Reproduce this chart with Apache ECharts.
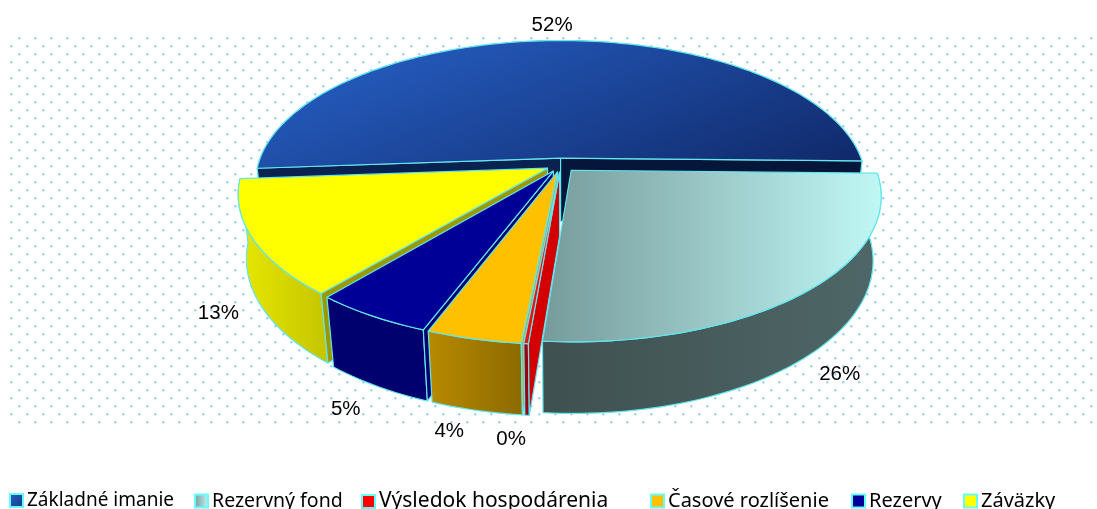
<!DOCTYPE html>
<html>
<head>
<meta charset="utf-8">
<style>html,body{margin:0;padding:0;background:#fff}#chart{width:1097px;height:509px}</style>
<script src="https://cdn.jsdelivr.net/npm/echarts@6/dist/echarts.min.js"></script>
</head>
<body>
<div id="chart"></div>
<script>
// values, in percent
const categories = ['Základné imanie', 'Rezervný fond', 'Výsledok hospodárenia', 'Časové rozlíšenie', 'Rezervy', 'Záväzky'];
const shares = [51.5, 26.0, 0.2, 4.2, 5.3, 12.8];

// paint order and colours per slice
const paintOrder = [1, 2, 6, 5, 4, 3];
const EDGE = '#62e6ee';

const grad = (x2, y2, a, b) => new echarts.graphic.LinearGradient(0, 0, x2, y2, [{offset: 0, color: a}, {offset: 1, color: b}]);
const looks = [
  {top: grad(0.2, 2.4, '#2864cc', '#10296a'), wall: '#081a40', cutA: '#0a2250', cutB: '#06163a', key: grad(1, 1, '#2560c8', '#143a80')},
  {top: grad(1, 0, '#769a9a', '#c0f8f6'), wall: grad(1, 0, '#3f5050', '#4f6768'), cutA: '#3f5050', cutB: '#3f5050', key: grad(1, 0, '#769a9a', '#c0f8f6')},
  {top: '#f01010', wall: '#9a0010', cutA: '#d40000', cutB: '#d40000', key: '#ff0000'},
  {top: '#ffc000', wall: grad(1, 0, '#b88a00', '#8c6a00'), cutA: '#a8b060', cutB: '#a8b060', key: '#ffc000'},
  {top: '#000096', wall: '#00006e', cutA: '#00006e', cutB: '#000078', key: '#000096'},
  {top: '#ffff00', wall: grad(1, 0, '#e8e800', '#c4c400'), cutA: '#9a9a00', cutB: '#9a9a00', key: '#ffff00'}
];

// projection of the tilted disc
const CX = 561, CY = 165, RX = 303, RY = 140, THICK = 65;
const PERSP = 0.1725, SHRINK = 0.025, EXPLODE = 0.05, START = -94.2, LABEL_R = 1.15;

// hand placement of the percent labels, on top of the computed spot
const labelNudge = [[-1, -1], [13, -1], [-12, 2], [-17, 0], [-10, 5], [-11, 0]];
// legend entries sit at uneven spots in the original
const legendLeft = [9, 194, 361, 650, 851, 963];
const legendFont = [19, 19.5, 21, 20, 20, 20];

function project(u, v, z) {
  const w = 1 - PERSP * v + SHRINK * z;
  return [CX + RX * u / w, CY + (RY * v + THICK * z) / w];
}

const total = shares.reduce((a, b) => a + b, 0);
function sliceStart(i) {
  const before = shares.slice(0, i).reduce((a, b) => a + b, 0);
  return START + before / total * 360;
}

function unit(deg) {
  const r = deg * Math.PI / 180;
  return [Math.sin(r), -Math.cos(r)];
}

function area(pts) {
  let s = 0;
  pts.forEach((p, k) => {
    const q = pts[(k + 1) % pts.length];
    s += p[0] * q[1] - q[0] * p[1];
  });
  return s;
}

function renderSlice(i, api) {
  const share = api.value(0);
  const a0 = sliceStart(i);
  const a1 = a0 + share / total * 360;
  const mid = unit((a0 + a1) / 2);
  const ox = mid[0] * EXPLODE, oy = mid[1] * EXPLODE;
  const look = looks[i];
  const at = (deg, r, z) => {
    const d = unit(deg);
    return project(ox + d[0] * r, oy + d[1] * r, z);
  };
  const arc = (z) => {
    const pts = [];
    const n = Math.max(2, Math.ceil((a1 - a0) / 1.5));
    for (let k = 0; k <= n; k++) pts.push(at(a0 + (a1 - a0) * k / n, 1, z));
    return pts;
  };
  const line = {stroke: EDGE, lineWidth: 1.2, lineJoin: 'round'};
  const poly = (points, fill) => ({type: 'polygon', shape: {points}, style: Object.assign({fill}, line)});
  const apexTop = at(0, 0, 0), apexBot = at(0, 0, 1);
  const topArc = arc(0), botArc = arc(1);

  const children = [poly(topArc.concat(botArc.slice().reverse()), look.wall)];
  // only the cut faces turned towards the viewer get painted
  const cut0 = [apexTop, topArc[0], botArc[0], apexBot];
  const cut1 = [apexTop, topArc[topArc.length - 1], botArc[botArc.length - 1], apexBot];
  if (area(cut0) < 0) children.push(poly(cut0, look.cutA));
  if (area(cut1) > 0) children.push(poly(cut1, look.cutB));
  children.push(poly([apexTop].concat(topArc), look.top));

  const front = mid[1] > 0;
  const labelR = front ? LABEL_R : 1.2;
  const labelPos = project(mid[0] * labelR, mid[1] * labelR, front ? 1 : 0);
  children.push({
    type: 'text',
    z2: 50,
    style: {
      x: labelPos[0] + labelNudge[i][0],
      y: labelPos[1] + labelNudge[i][1],
      text: Math.round(share) + '%',
      fill: '#000',
      font: '20.5px "Liberation Sans", Arial, sans-serif',
      align: 'center',
      verticalAlign: 'middle'
    }
  });
  return {type: 'group', children};
}

// dotted backdrop tile
const tile = document.createElement('canvas');
tile.width = 16;
tile.height = 16;
const tctx = tile.getContext('2d');
tctx.fillStyle = '#9ad2ec';
[[3.3, 6.2], [11.3, 14.2]].forEach((p) => {
  tctx.beginPath();
  tctx.arc(p[0], p[1], 1.2, 0, Math.PI * 2);
  tctx.fill();
});

const chart = echarts.init(document.getElementById('chart'), null, {renderer: 'canvas'});
chart.setOption({
  animation: false,
  backgroundColor: '#fff',
  graphic: [{
    type: 'rect',
    z: -1,
    silent: true,
    shape: {x: 8, y: 32, width: 1089, height: 394},
    style: {fill: {image: tile, repeat: 'repeat'}}
  }],
  legend: categories.map((name, i) => ({
    left: legendLeft[i],
    top: 491,
    itemWidth: 13,
    itemHeight: 13,
    icon: 'rect',
    selectedMode: false,
    padding: 0,
    textStyle: {fontFamily: '"Noto Sans", sans-serif', fontSize: legendFont[i], color: '#000', padding: [0, 0, 0, -1]},
    data: [{name, itemStyle: {color: looks[i].key, borderColor: '#66ffff', borderWidth: 2}}]
  })),
  series: categories.map((name, i) => ({
    type: 'custom',
    name,
    coordinateSystem: 'none',
    z: paintOrder[i],
    silent: true,
    data: [[shares[i]]],
    renderItem: (params, api) => renderSlice(i, api)
  }))
});
</script>
</body>
</html>
